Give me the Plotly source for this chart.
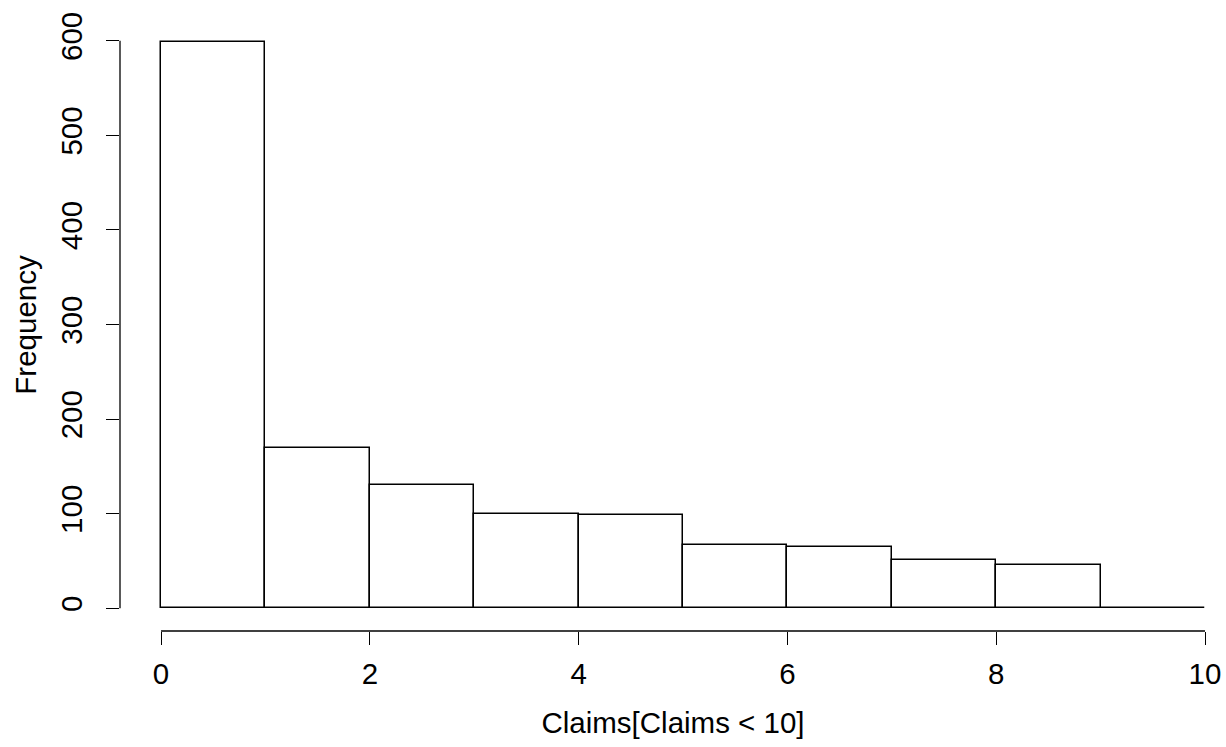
import plotly.graph_objects as go

# Histogram of Claims[Claims < 10]
bin_left = [0, 1, 2, 3, 4, 5, 6, 7, 8, 9]
counts = [599, 169, 130, 100, 99, 67, 65, 51, 46, 0]
x_ticks = [0, 2, 4, 6, 8, 10]
y_ticks = [0, 100, 200, 300, 400, 500, 600]
x_title = "Claims[Claims < 10]"
y_title = "Frequency"

bin_width = 1
centers = [b + bin_width / 2 for b in bin_left]

FONT = "Liberation Sans, Arial, sans-serif"
fsize = 29.5

fig = go.Figure()
fig.add_trace(go.Bar(
    x=centers, y=counts, width=[bin_width] * len(counts),
    marker=dict(color="white", line=dict(color="black", width=1.5)),
    showlegend=False, hoverinfo="x+y",
))

fig.update_layout(
    width=1226, height=747,
    margin=dict(l=120, r=0, t=19, b=116),
    paper_bgcolor="white", plot_bgcolor="white",
    font=dict(family=FONT, size=fsize, color="black"),
    bargap=0,
    xaxis=dict(
        range=[-0.393, 10.201], tickvals=x_ticks, ticktext=[str(v) for v in x_ticks],
        ticks="outside", ticklen=13, tickwidth=1.3, tickcolor="black",
        showgrid=False, zeroline=False, showline=False,
        tickfont=dict(family=FONT, size=fsize, color="black"),
        ticklabelstandoff=4,
        title=dict(text=x_title, font=dict(family=FONT, size=fsize, color="black"), standoff=22),
    ),
    yaxis=dict(
        range=[-24, 623], tickvals=y_ticks, ticktext=[str(v) for v in y_ticks],
        ticks="outside", ticklen=13, tickwidth=1.3, tickcolor="black",
        showgrid=False, zeroline=False, showline=False,
        tickangle=-90,
        tickfont=dict(family=FONT, size=fsize, color="black"),
        ticklabelstandoff=12,
        title=dict(text=y_title, font=dict(family=FONT, size=fsize, color="black"), standoff=9),
    ),
)

# R-style axis lines spanning only the tick range
fig.add_shape(type="line", xref="paper", yref="y", x0=0, x1=0,
              y0=min(y_ticks), y1=max(y_ticks), line=dict(color="black", width=1.3))
fig.add_shape(type="line", xref="x", yref="paper", x0=min(x_ticks), x1=max(x_ticks),
              y0=0, y1=0, line=dict(color="black", width=1.3))

fig.write_html("out.html")
